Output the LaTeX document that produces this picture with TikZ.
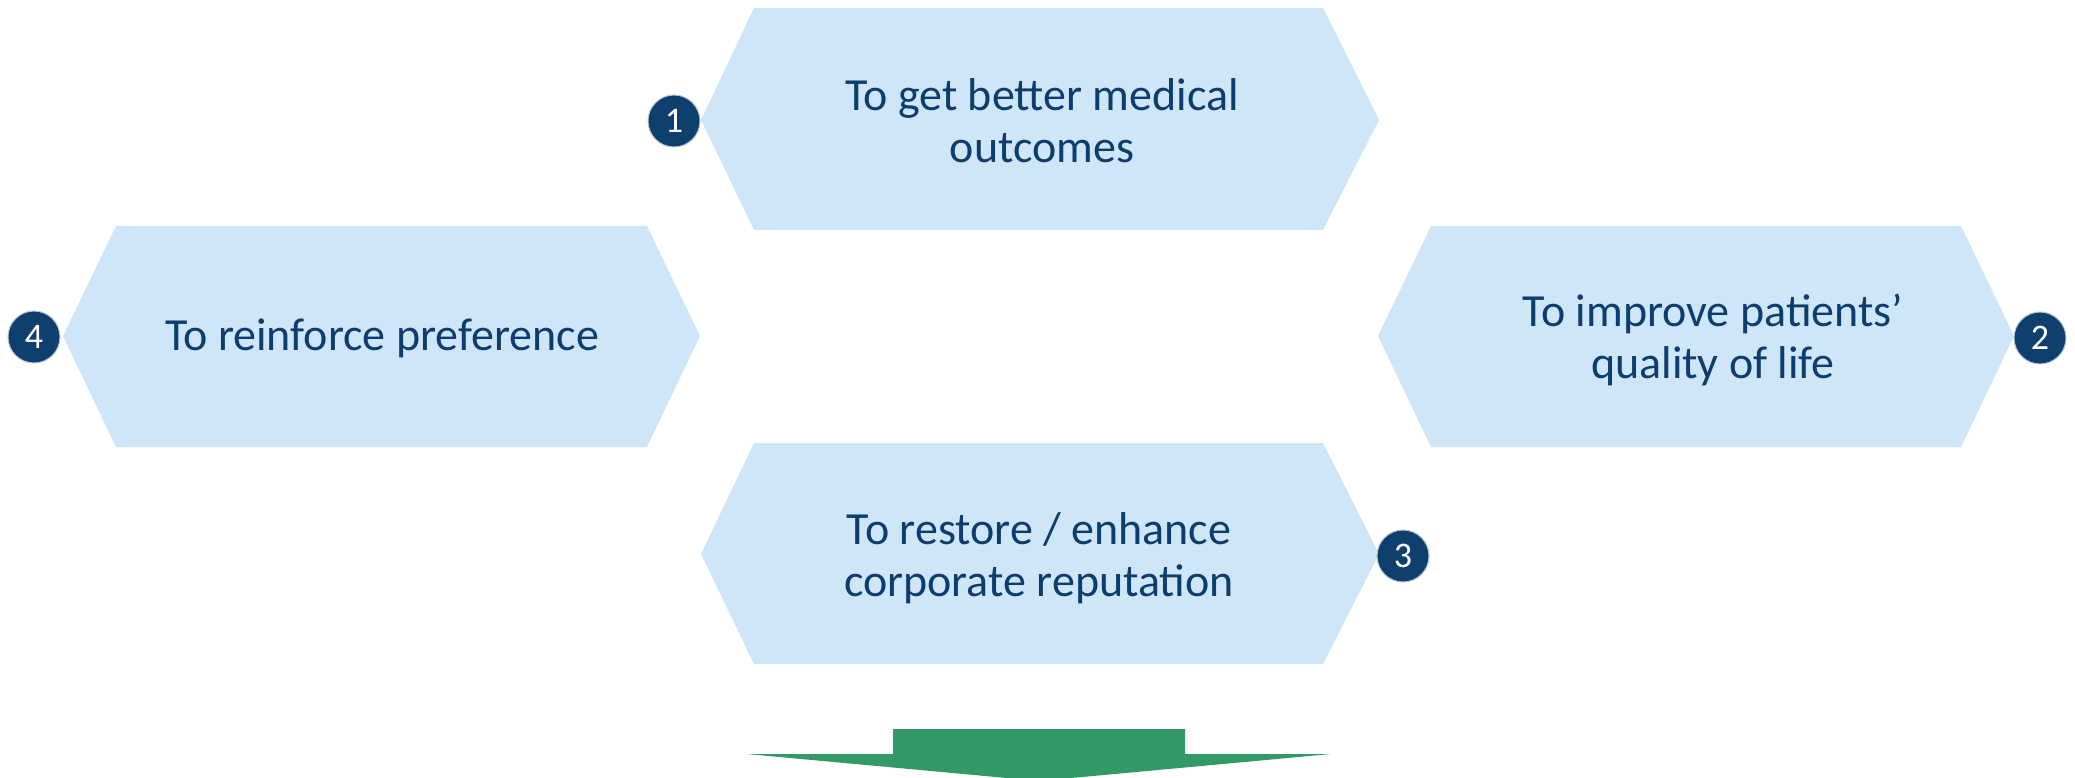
\documentclass[tikz,border=0pt]{standalone}
\usepackage{fontspec}
\setmainfont{Carlito}
\definecolor{hexfill}{HTML}{CFE6F8}
\definecolor{txtblue}{HTML}{0B3D6E}
\definecolor{circfill}{HTML}{0F3F6D}
\definecolor{arrowgreen}{HTML}{339966}
\tikzset{
  hexbox/.style={fill=hexfill, draw=none},
  hextext/.style={text=txtblue, align=center, font=\fontsize{46}{52}\selectfont, inner sep=0pt},
  numcirc/.style={circle, fill=circfill, draw=white!70!circfill, line width=1pt, minimum size=52pt, inner sep=0pt, text=white, font=\fontsize{36}{36}\selectfont},
}
\begin{document}
\begin{tikzpicture}[x=1pt,y=-1pt]
\useasboundingbox (0,0) rectangle (2075,778);
\clip (0,0) rectangle (2075,778);
% hexagon 1
\fill[hexbox] (701,120) -- (754,8) -- (1323,8) -- (1379,120) -- (1323,230) -- (754,230) -- cycle;
\node[hextext] (t1) at (1042,121) {To get better medical\\outcomes};
% hexagon 4
\fill[hexbox] (63,336) -- (116,226) -- (647,226) -- (700,336) -- (647,447) -- (116,447) -- cycle;
\node[hextext] (t4) at (382,338) {To reinforce preference};
% hexagon 2
\fill[hexbox] (1378,336) -- (1431,226) -- (1961,226) -- (2014,336) -- (1961,447) -- (1431,447) -- cycle;
\node[hextext] (t2) at (1713,340) {To improve patients’\\quality of life};
% hexagon 3
\fill[hexbox] (701,554) -- (754,443) -- (1323,443) -- (1379,554) -- (1323,664) -- (754,664) -- cycle;
\node[hextext] (t3) at (1039,558) {To restore / enhance\\corporate reputation};
% numbers
\node[numcirc] (n1) at (674,121) {1};
\node[numcirc] (n2) at (2040,338) {2};
\node[numcirc] (n3) at (1403,556) {3};
\node[numcirc] (n4) at (34,337) {4};
% arrow
\fill[arrowgreen] (893,729) -- (1185,729) -- (1185,754) -- (1331,754) -- (1039,781) -- (747,754) -- (893,754) -- cycle;
\end{tikzpicture}
\end{document}
